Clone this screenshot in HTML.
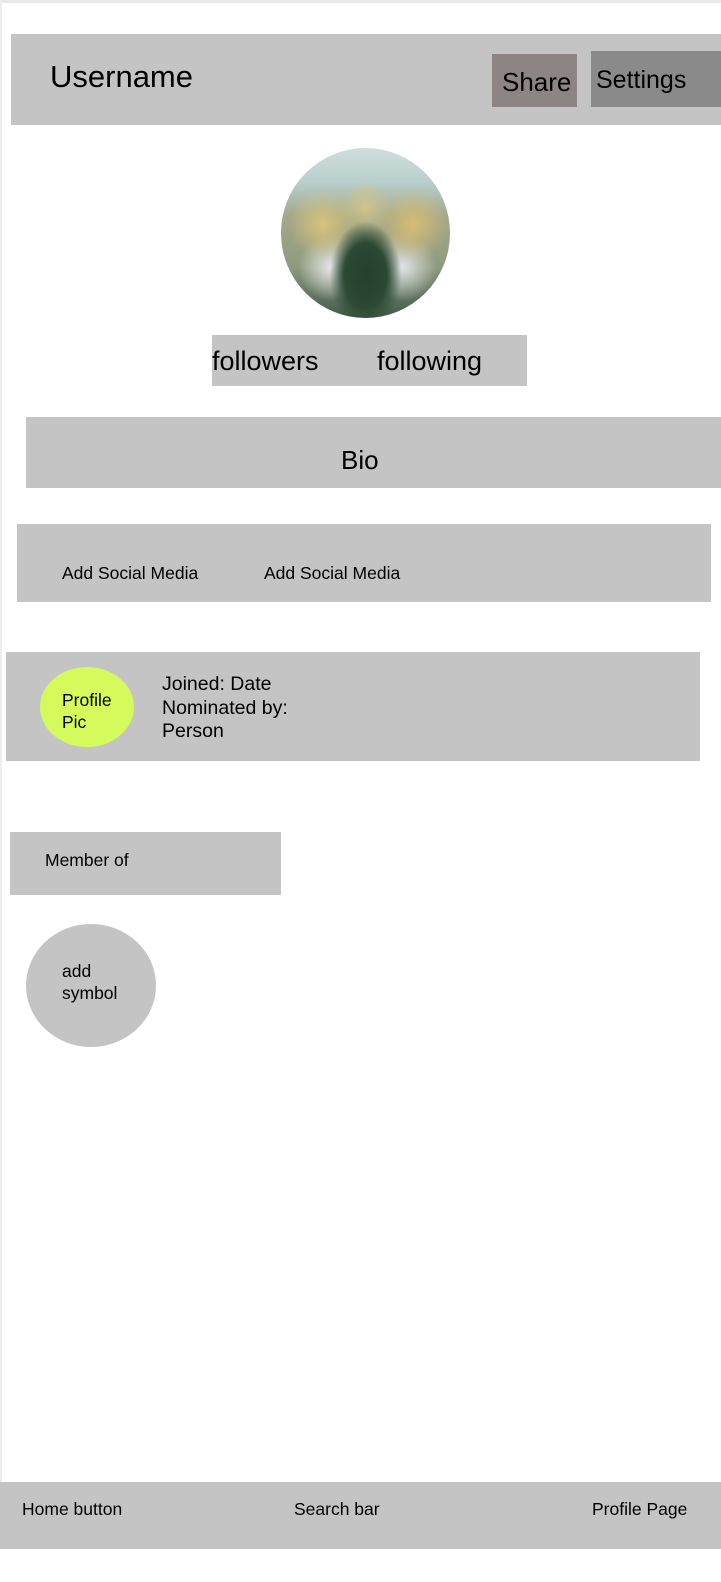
<!DOCTYPE html>
<html><head><meta charset="utf-8"><style>
html,body{margin:0;padding:0;}
body{width:721px;height:1582px;position:relative;background:#fff;font-family:"Liberation Sans",sans-serif;color:#000;overflow:hidden;}
.a{position:absolute;box-sizing:border-box;}
.g{background:#c4c4c4;}
.t{position:absolute;white-space:nowrap;line-height:1;}
</style></head><body>
<div class="a" style="left:0;top:0;width:721px;height:3px;background:#e8e8e8"></div>
<div class="a" style="left:0;top:0;width:2px;height:1482px;background:#eeeeee"></div>

<div class="a g" style="left:11px;top:34px;width:710px;height:91px">
  <span class="t" style="left:39px;top:27px;font-size:31px">Username</span>
</div>
<div class="a" style="left:492px;top:54px;width:85px;height:53px;background:#8c8584">
  <span class="t" style="left:10px;top:15px;font-size:26px">Share</span>
</div>
<div class="a" style="left:591px;top:51px;width:130px;height:56px;background:#8a8a8a">
  <span class="t" style="left:5px;top:17px;font-size:25px">Settings</span>
</div>

<div class="a" style="left:281px;top:148px;width:169px;height:170px;border-radius:50%;overflow:hidden;background:
radial-gradient(ellipse at 50% 75%,#24402a 0%,#2b4a33 18%,transparent 30%),
radial-gradient(circle at 25% 45%,#d9c37a 0%,transparent 22%),
radial-gradient(circle at 78% 45%,#d7bd73 0%,transparent 22%),
radial-gradient(circle at 50% 35%,#cfc38a 0%,transparent 20%),
radial-gradient(circle at 30% 70%,#e6e8ea 0%,transparent 20%),
radial-gradient(circle at 72% 70%,#dfe3e6 0%,transparent 20%),
linear-gradient(#cfdedd 0%,#b9cfcc 20%,#a4a88a 40%,#8f9a7d 70%,#3f5a4a 100%)"></div>

<div class="a g" style="left:212px;top:335px;width:315px;height:51px">
  <span class="t" style="left:0;top:13px;font-size:27px">followers</span>
  <span class="t" style="left:165px;top:13px;font-size:27px">following</span>
</div>

<div class="a g" style="left:26px;top:417px;width:695px;height:71px">
  <span class="t" style="left:315px;top:30px;font-size:26px">Bio</span>
</div>

<div class="a g" style="left:17px;top:524px;width:694px;height:78px">
  <span class="t" style="left:45px;top:41px;font-size:17.5px">Add Social Media</span>
  <span class="t" style="left:247px;top:41px;font-size:17.5px">Add Social Media</span>
</div>

<div class="a g" style="left:6px;top:652px;width:694px;height:109px">
  <div class="a" style="left:34px;top:15px;width:94px;height:80px;border-radius:50%;background:#d5fa5c">
    <span class="t" style="left:22px;top:22px;font-size:17.5px;line-height:22px">Profile<br>Pic</span>
  </div>
  <span class="t" style="left:156px;top:21px;font-size:19.5px;line-height:23.5px">Joined: Date<br>Nominated by:<br>Person</span>
</div>

<div class="a g" style="left:10px;top:832px;width:271px;height:63px">
  <span class="t" style="left:35px;top:20px;font-size:17.5px">Member of</span>
</div>

<div class="a g" style="left:26px;top:924px;width:130px;height:123px;border-radius:50%">
  <span class="t" style="left:36px;top:36px;font-size:17.5px;line-height:22px">add<br>symbol</span>
</div>

<div class="a g" style="left:0;top:1482px;width:721px;height:67px">
  <span class="t" style="left:22px;top:19px;font-size:17.5px">Home button</span>
  <span class="t" style="left:294px;top:19px;font-size:17.5px">Search bar</span>
  <span class="t" style="left:592px;top:19px;font-size:17.5px">Profile Page</span>
</div>
</body></html>
